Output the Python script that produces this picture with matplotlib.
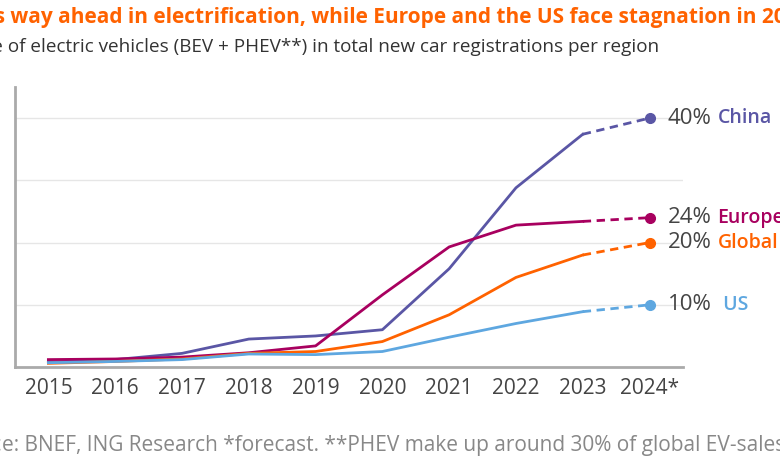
import numpy as np
import matplotlib.pyplot as plt

# data (share of EVs in new car registrations, %)
years = ["2015", "2016", "2017", "2018", "2019", "2020", "2021", "2022", "2023", "2024*"]
china = [0.8, 1.2, 2.2, 4.5, 5.0, 6.0, 15.8, 28.8, 37.4, 40]
europe = [1.2, 1.3, 1.6, 2.3, 3.4, 11.6, 19.3, 22.8, 23.4, 24]
global_ = [0.6, 0.9, 1.3, 2.2, 2.5, 4.1, 8.4, 14.4, 18.0, 20]
us = [0.7, 0.9, 1.2, 2.1, 2.0, 2.5, 4.8, 7.0, 8.9, 10]

colors = ["#5a56a5", "#a8005f", "#ff6200", "#5ea7e0"]
series = [china, europe, global_, us]
end_labels = ["40%", "24%", "20%", "10%"]
name_labels = ["China", "Europe", "Global", " US"]

plt.rcParams['font.family'] = ['Open Sans', 'DejaVu Sans']

fig = plt.figure(figsize=(7.8, 4.7), dpi=100)
ax = fig.add_axes([0.0192, 0.219, 0.8564, 0.596])

x = np.arange(len(years))
for vals, c in zip(series, colors):
    ax.plot(x[:-1], vals[:-1], color=c, lw=2)
    ax.plot(x[-2:], vals[-2:], color=c, lw=2, ls=(0, (3, 2)))
    ax.plot(x[-1], vals[-1], 'o', color=c, ms=7)

for vals, c, pl, nm in zip(series, colors, end_labels, name_labels):
    y = vals[-1]
    ax.annotate(pl, (x[-1], y), xytext=(13, 0), textcoords='offset points',
                va='center', ha='left', fontsize=16, color='#444444',
                annotation_clip=False)
    ax.annotate(nm, (x[-1], y), xytext=(49, 0), textcoords='offset points',
                va='center', ha='left', fontsize=14, color=c,
                fontweight='semibold', annotation_clip=False)

ax.set_xlim(-0.5, 9.5)
ax.set_ylim(0, 45)
ax.set_xticks(x)
ax.set_xticklabels(years, fontsize=15, color='#444444')
ax.set_yticks([10, 20, 30, 40])
ax.set_yticklabels([])
ax.tick_params(length=0, pad=8)
ax.grid(axis='y', color='#e6e6e6', lw=1)
ax.set_axisbelow(True)
for s in ['top', 'right']:
    ax.spines[s].set_visible(False)
ax.spines['left'].set_color('#aaaaaa')
ax.spines['bottom'].set_color('#aaaaaa')
ax.spines['left'].set_linewidth(2)
ax.spines['bottom'].set_linewidth(2)

# title, subtitle and source (cut off at the edges like the original)
fig.text(0.006, 0.962, "China is", ha='right', va='center', fontsize=15,
         fontweight='bold', color='#ff6200')
fig.text(0.006, 0.962, " way ahead in electrification, while Europe and the US face stagnation in 2024",
         ha='left', va='center', fontsize=15, fontweight='bold', color='#ff6200')
fig.text(0.004, 0.9, "Share", ha='right', va='center', fontsize=13.6, color='#333333')
fig.text(0.004, 0.9, " of electric vehicles (BEV + PHEV**) in total new car registrations per region",
         ha='left', va='center', fontsize=13.6, color='#333333')
fig.text(0.003, 0.053, "Sourc", ha='right', va='center', fontsize=15, color='#888888')
fig.text(0.003, 0.053, "e: BNEF, ING Research *forecast. **PHEV make up around 30% of global EV-sales",
         ha='left', va='center', fontsize=15, color='#888888')

fig.savefig("out.png", dpi=100)
